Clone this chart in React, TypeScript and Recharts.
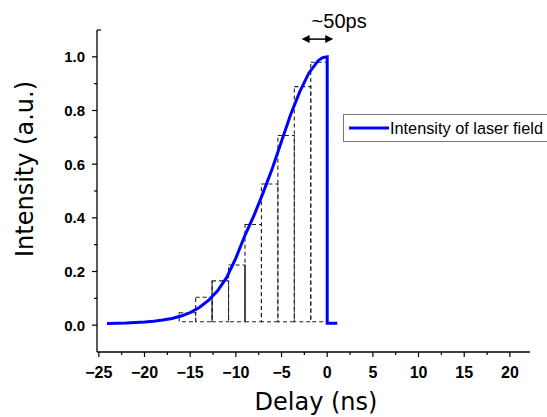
import React from 'react'
import {
  ComposedChart,
  Legend,
  Line,
  ReferenceArea,
  ReferenceLine,
  XAxis,
  YAxis,
} from 'recharts'

// blue pulse envelope (ns, a.u.)
const delayNs = [
  -24.1, -23, -22, -21, -20, -19, -18, -17, -16, -15, -14, -13, -12, -11, -10,
  -9, -8, -7, -6, -5, -4, -3, -2, -1, -0.5, 0, 0, 1.1,
]
const intensity = [
  0.006, 0.007, 0.008, 0.01, 0.012, 0.015, 0.019, 0.025, 0.034, 0.047, 0.066,
  0.092, 0.128, 0.178, 0.25, 0.335, 0.41, 0.495, 0.585, 0.685, 0.785, 0.87,
  0.94, 0.985, 0.997, 1.0, 0.007, 0.007,
]

// dashed staircase
const stepEdges = [-16.2, -14.4, -12.6, -10.8, -9.0, -7.2, -5.4, -3.6, -1.8, 0]
const stepTops = [0.046, 0.104, 0.165, 0.224, 0.375, 0.526, 0.707, 0.889, 0.98]
const stepBase = 0.013
const solidEdges = [-12.6, -9.0]
const solidTops = [0.165, 0.224]

// ~50ps marker
const arrowFrom = -2.8
const arrowTo = 0.66
const arrowLevel = 1.066
const arrowText = '~50ps'

const xTicks = [
  -25, -22.5, -20, -17.5, -15, -12.5, -10, -7.5, -5, -2.5, 0, 2.5, 5, 7.5, 10,
  12.5, 15, 17.5, 20,
]
const yTicks = [0, 0.1, 0.2, 0.3, 0.4, 0.5, 0.6, 0.7, 0.8, 0.9, 1.0, 1.1]

const curve = delayNs.map((x, i) => ({ x, y: intensity[i] }))

const tickFont = '"Liberation Sans", Arial, sans-serif'
const titleFont = '"DejaVu Sans", sans-serif'

function XTick({ x, y, payload }: any) {
  const v = payload.value
  const major = Math.round(v * 2) % 10 === 0
  return (
    <g>
      <line x1={x} x2={x} y1={y} y2={y + (major ? 5 : 3)} stroke="#000" strokeWidth={1.2} />
      {major && (
        <text
          x={x}
          y={y + 26}
          textAnchor="middle"
          fontFamily={tickFont}
          fontWeight="bold"
          fontSize={16}
          fill="#000"
        >
          {v < 0 ? `\u2212${Math.abs(v)}` : `${v}`}
        </text>
      )}
    </g>
  )
}

function YTick({ x, y, payload }: any) {
  const v = payload.value
  const k = Math.round(v * 10)
  const major = k % 2 === 0
  if (k === 11) {
    return <line x1={x} x2={x + 4} y1={y} y2={y} stroke="#000" strokeWidth={1.2} />
  }
  return (
    <g>
      <line x1={x - (major ? 5 : 3)} x2={x} y1={y} y2={y} stroke="#000" strokeWidth={1.2} />
      {major && (
        <text
          x={x - 12}
          y={y + 5.5}
          textAnchor="end"
          fontFamily={tickFont}
          fontWeight="bold"
          fontSize={15}
          fill="#000"
        >
          {v.toFixed(1)}
        </text>
      )}
    </g>
  )
}

function YTitle({ viewBox }: any) {
  const bx = viewBox.x + 33
  const by = viewBox.y + 227
  return (
    <text
      x={bx}
      y={by}
      transform={`rotate(-90 ${bx} ${by})`}
      textAnchor="start"
      fontFamily={titleFont}
      fontSize={24}
      fill="#000"
    >
      Intensity (a.u.)
    </text>
  )
}

function ArrowShape({ x1, y1, x2 }: any) {
  return (
    <g>
      <line x1={x1 + 6} x2={x2 - 6} y1={y1} y2={y1} stroke="#000" strokeWidth={1.5} />
      <polygon points={`${x1},${y1} ${x1 + 8},${y1 - 4} ${x1 + 8},${y1 + 4}`} fill="#000" />
      <polygon points={`${x2},${y1} ${x2 - 8},${y1 - 4} ${x2 - 8},${y1 + 4}`} fill="#000" />
      <text x={x1 + 10} y={y1 - 11} fontFamily={tickFont} fontSize={20} fill="#000">
        {arrowText}
      </text>
    </g>
  )
}

function LegendBox({ payload }: any) {
  return (
    <div
      style={{
        width: 203,
        height: 26,
        border: '1px solid #777',
        background: '#fff',
        display: 'flex',
        alignItems: 'center',
        whiteSpace: 'nowrap',
      }}
    >
      {(payload || []).map((p: any) => (
        <div key={p.value} style={{ display: 'flex', alignItems: 'center' }}>
          <svg width={46} height={10} style={{ display: 'block' }}>
            <line x1={5} x2={45} y1={5} y2={5} stroke={p.color} strokeWidth={3} />
          </svg>
          <span style={{ fontFamily: tickFont, fontSize: 16.3, color: '#000' }}>{p.value}</span>
        </div>
      ))}
    </div>
  )
}

export default function App() {
  return (
    <div style={{ position: 'absolute', left: 0, top: 0, background: '#fff' }}>
      <ComposedChart
        width={547}
        height={417}
        data={curve}
        margin={{ top: 30, right: 17, bottom: 0, left: 0 }}
      >
        <XAxis
          type="number"
          dataKey="x"
          domain={[-25.2, 22.2]}
          allowDataOverflow
          ticks={xTicks}
          interval={0}
          tickSize={0}
          tickMargin={0}
          tickLine={false}
          tick={<XTick />}
          height={65}
          axisLine={{ stroke: '#000', strokeWidth: 1.3 }}
          label={{
            value: 'Delay (ns)',
            position: 'insideBottom',
            offset: 7,
            dx: 2.5,
            style: { fontFamily: titleFont, fontSize: 24, fill: '#000' },
          }}
        />
        <YAxis
          type="number"
          domain={[-0.1, 1.1]}
          allowDataOverflow
          ticks={yTicks}
          interval={0}
          tickSize={0}
          tickMargin={0}
          tickLine={false}
          tick={<YTick />}
          width={97}
          axisLine={{ stroke: '#000', strokeWidth: 1.3 }}
          label={<YTitle />}
        />
        {stepTops.map((top, i) => (
          <ReferenceArea
            key={`step-${i}`}
            x1={stepEdges[i]}
            x2={stepEdges[i + 1]}
            y1={stepBase}
            y2={top}
            fill="none"
            fillOpacity={0}
            stroke="#222"
            strokeWidth={1.1}
            strokeDasharray="4 3"
          />
        ))}
        {solidEdges.map((sx, i) => (
          <ReferenceLine
            key={`solid-${i}`}
            segment={[
              { x: sx, y: stepBase },
              { x: sx, y: solidTops[i] },
            ]}
            stroke="#222"
            strokeWidth={1.1}
          />
        ))}
        <ReferenceLine
          segment={[
            { x: arrowFrom, y: arrowLevel },
            { x: arrowTo, y: arrowLevel },
          ]}
          shape={<ArrowShape />}
        />
        <Line
          type="linear"
          dataKey="y"
          name="Intensity of laser field"
          stroke="#0000ff"
          strokeWidth={3}
          dot={false}
          activeDot={false}
          isAnimationActive={false}
        />
        <Legend
          content={<LegendBox />}
          wrapperStyle={{
            position: 'absolute',
            left: 343,
            top: 114,
            width: 0,
            height: 0,
            overflow: 'visible',
          }}
        />
      </ComposedChart>
    </div>
  )
}
